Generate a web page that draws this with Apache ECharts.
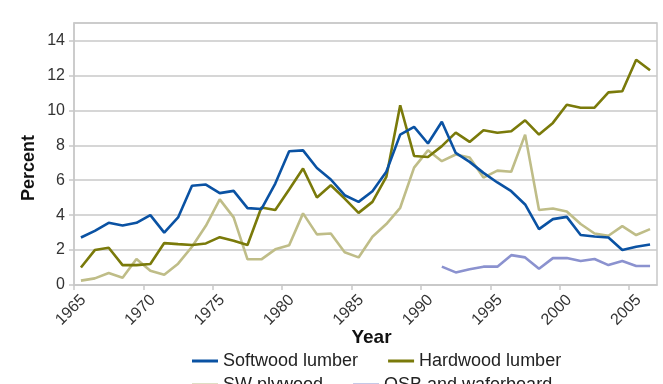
<!DOCTYPE html>
<html><head><meta charset="utf-8">
<script src="https://cdn.jsdelivr.net/npm/echarts@6/dist/echarts.min.js"></script>
<style>html,body{margin:0;padding:0;background:#fff;}#c{width:663px;height:384px;}</style>
</head><body><div id="c"></div>
<script>
const years = [1965,1966,1967,1968,1969,1970,1971,1972,1973,1974,1975,1976,1977,1978,1979,1980,1981,1982,1983,1984,1985,1986,1987,1988,1989,1990,1991,1992,1993,1994,1995,1996,1997,1998,1999,2000,2001,2002,2003,2004,2005,2006];
const softwood = [2.72,3.1,3.56,3.41,3.56,4.0,3.0,3.87,5.68,5.75,5.26,5.39,4.4,4.35,5.81,7.66,7.71,6.7,6.04,5.14,4.76,5.37,6.48,8.61,9.05,8.1,9.35,7.56,7.05,6.42,5.87,5.37,4.61,3.2,3.77,3.9,2.86,2.78,2.72,2.0,2.19,2.32];
const hardwood = [1.0,2.0,2.13,1.14,1.14,1.2,2.4,2.34,2.29,2.38,2.74,2.53,2.29,4.44,4.29,5.47,6.67,5.01,5.71,4.95,4.13,4.76,6.19,10.29,7.39,7.33,7.95,8.72,8.19,8.86,8.72,8.8,9.43,8.61,9.28,10.32,10.15,10.15,11.03,11.09,12.9,12.29];
const swPlywood = [0.25,0.38,0.69,0.42,1.49,0.82,0.59,1.22,2.19,3.39,4.9,3.87,1.47,1.47,2.04,2.27,4.1,2.9,2.95,1.87,1.58,2.76,3.49,4.42,6.72,7.71,7.09,7.47,7.3,6.15,6.55,6.48,8.61,4.29,4.38,4.21,3.49,2.95,2.82,3.37,2.86,3.2];
const osb = [null,null,null,null,null,null,null,null,null,null,null,null,null,null,null,null,null,null,null,null,null,null,null,null,null,null,1.05,0.72,0.9,1.05,1.05,1.71,1.58,0.93,1.54,1.54,1.37,1.49,1.14,1.37,1.09,1.09];
const seriesNames = ['Softwood lumber','Hardwood lumber','SW plywood','OSB and waferboard'];
const colors = ['#0a52a3','#7a7a0a','#bfbd88','#8b92cf'];

// data plotted at mid-year
const pts = arr => years.map((y,i)=> [y+0.5, arr[i]]);
const allData = [softwood, hardwood, swPlywood, osb];

const chart = echarts.init(document.getElementById('c'), null, {renderer:'canvas'});
const font = 'Liberation Sans, Arial, sans-serif';
const legendText = {fontFamily:font,fontSize:18,color:'#222',width:142};
chart.setOption({
  animation:false,
  grid:{left:74,right:6,top:23,bottom:99,show:true,borderColor:'#c8c8c8',borderWidth:1.5},
  xAxis:{type:'value',min:1965,max:2007,interval:5,
    name:'Year',nameLocation:'middle',nameGap:43,nameMoveOverlap:false,
    nameTextStyle:{fontFamily:font,fontWeight:'bold',fontSize:19,color:'#111',padding:[0,0,0,12]},
    axisLine:{lineStyle:{color:'#c8c8c8',width:1.5}},
    axisTick:{show:true,length:5,lineStyle:{color:'#c8c8c8',width:1.5}},
    splitLine:{show:false},
    axisLabel:{rotate:45,align:'center',verticalAlign:'middle',showMaxLabel:false,margin:22,fontFamily:font,fontSize:16,color:'#333',formatter:v=>String(v)+'\u00a0\u00a0'}},
  yAxis:{type:'value',min:0,max:15,interval:2,
    name:'Percent',nameLocation:'middle',nameGap:36,nameRotate:90,nameMoveOverlap:false,
    nameTextStyle:{fontFamily:font,fontWeight:'bold',fontSize:18,color:'#111',padding:[0,28,0,0]},
    axisLine:{show:true,lineStyle:{color:'#c8c8c8',width:1.5}},
    axisTick:{show:true,length:5,lineStyle:{color:'#c8c8c8',width:1.5}},
    splitLine:{lineStyle:{color:'#c8c8c8',width:1.5}},
    axisLabel:{showMaxLabel:false,margin:9,fontFamily:font,fontSize:16,color:'#333'}},
  legend:[
    {data:seriesNames.slice(0,2),left:187,top:347,itemWidth:26,itemHeight:3,itemGap:30,icon:'rect',textStyle:legendText},
    {data:seriesNames.slice(2,4),left:187,top:371,itemWidth:26,itemHeight:3,itemGap:30,icon:'rect',textStyle:legendText}
  ],
  series: seriesNames.map((n,i)=>({
    name:n,type:'line',data:pts(allData[i]),showSymbol:false,symbol:'none',
    connectNulls:false,
    lineStyle:{color:colors[i],width:2.6},itemStyle:{color:colors[i]},z:4-i
  }))
});
</script></body></html>
